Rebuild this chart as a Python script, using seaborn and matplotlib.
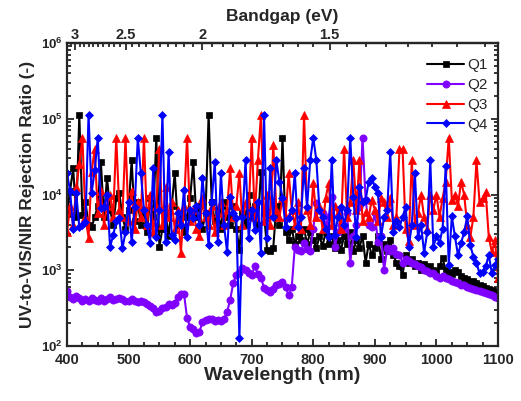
import numpy as np
import pandas as pd
import matplotlib
matplotlib.use("Agg")
import matplotlib.pyplot as plt
import seaborn as sns
from matplotlib.ticker import FixedLocator, MultipleLocator, LogLocator, FuncFormatter, NullFormatter

# ---------------- data (log10 of rejection ratio) ----------------
wavelength = np.arange(400, 1101, 5)

q1_log10 = [
    3.75, 4.05, 4.35, 3.70, 5.05, 3.73, 3.90, 3.60, 3.57, 3.70,
    3.85, 4.43, 3.70, 4.22, 3.80, 3.60, 3.95, 4.02, 3.70, 3.55,
    3.80, 4.45, 3.65, 3.90, 3.60, 3.80, 3.50, 3.95, 3.70, 4.75,
    3.31, 3.55, 3.75, 3.45, 3.85, 4.28, 3.60, 3.75, 3.50, 3.70,
    3.95, 4.43, 3.70, 3.85, 3.55, 3.75, 5.05, 3.90, 3.65, 3.80,
    3.55, 3.90, 3.70, 3.60, 3.85, 3.55, 3.27, 3.75, 3.60, 4.00,
    3.70, 3.85, 3.60, 4.30, 3.75, 3.27, 3.25, 3.30, 3.85, 3.60,
    4.75, 3.50, 3.40, 3.55, 3.35, 3.45, 3.40, 3.55, 3.35, 3.50,
    3.40, 3.29, 3.45, 3.32, 3.50, 3.35, 3.45, 3.30, 3.40, 3.27,
    3.45, 3.35, 3.50, 3.25, 3.40, 3.30, 3.45, 3.10, 3.35, 3.20,
    3.30, 3.45, 3.15, 3.35, 3.25, 3.40, 3.20, 3.10, 3.05, 2.94,
    3.20, 3.10, 3.15, 3.05, 3.10, 3.00, 3.08, 3.02, 3.05, 3.00,
    2.98, 3.05, 3.16, 3.00, 2.98, 2.95, 3.00, 2.98, 2.92, 2.90,
    2.88, 2.85, 2.86, 2.83, 2.80, 2.79, 2.77, 2.75, 2.74, 2.72,
    2.71,
]

q2_log10 = [
    2.72, 2.65, 2.62, 2.66, 2.64, 2.60, 2.62, 2.60, 2.63, 2.61,
    2.60, 2.63, 2.60, 2.62, 2.65, 2.61, 2.62, 2.64, 2.62, 2.60,
    2.59, 2.62, 2.60, 2.58, 2.60, 2.58, 2.55, 2.53, 2.50, 2.45,
    2.46, 2.50, 2.52, 2.55, 2.54, 2.57, 2.65, 2.68, 2.69, 2.37,
    2.25, 2.23, 2.17, 2.18, 2.32, 2.34, 2.36, 2.35, 2.33, 2.34,
    2.33, 2.35, 2.45, 2.61, 2.83, 2.94, 2.96, 3.03, 3.00, 2.96,
    2.94, 3.05, 2.95, 2.90, 2.77, 2.74, 2.71, 2.75, 2.80, 2.82,
    2.85, 2.78, 2.67, 2.78, 3.31, 3.27, 3.25, 3.36, 3.28, 3.25,
    3.55, 3.89, 3.80, 3.76, 3.60, 3.70, 3.97, 3.31, 3.50, 3.60,
    3.55, 3.76, 3.10, 3.45, 3.60, 3.84, 4.75, 3.93, 3.60, 3.57,
    3.75, 3.37, 3.45, 3.00, 3.29, 3.25, 3.30, 3.22, 3.20, 3.10,
    3.15, 3.12, 3.10, 3.08, 3.06, 3.04, 3.00, 2.99, 2.96, 2.96,
    2.93, 2.90, 2.92, 2.90, 2.88, 2.86, 2.84, 2.83, 2.81, 2.80,
    2.78, 2.77, 2.75, 2.74, 2.72, 2.71, 2.70, 2.68, 2.67, 2.65,
    2.64,
]

q3_log10 = [
    3.50, 3.85, 3.60, 4.10, 4.40, 4.75, 3.70, 3.43, 4.30, 4.60,
    3.75, 4.05, 3.60, 3.85, 4.00, 3.70, 4.75, 3.80, 3.70, 4.75,
    3.65, 4.05, 3.55, 3.90, 3.70, 4.75, 3.60, 4.00, 3.50, 3.85,
    4.60, 3.60, 4.10, 3.70, 3.90, 3.55, 3.80, 3.23, 3.85, 4.75,
    3.65, 3.80, 3.55, 3.45, 3.95, 3.70, 3.60, 3.85, 3.50, 3.75,
    3.90, 3.60, 3.80, 4.35, 3.70, 3.85, 4.28, 3.60, 3.90, 3.75,
    4.75, 3.70, 4.45, 5.05, 3.65, 4.00, 3.60, 4.65, 3.80, 3.70,
    3.95, 3.70, 4.28, 3.80, 3.60, 3.90, 3.55, 5.05, 3.80, 3.60,
    4.15, 3.70, 3.85, 3.55, 3.95, 4.15, 3.60, 3.85, 3.75, 3.55,
    4.60, 3.70, 3.90, 4.45, 3.80, 4.45, 3.65, 3.77, 3.70, 3.93,
    3.80, 3.65, 3.95, 3.90, 3.70, 3.95, 3.60, 3.70, 4.60, 4.60,
    3.55, 3.38, 4.45, 3.60, 3.75, 4.00, 3.70, 3.55, 4.00, 3.80,
    4.00, 3.70, 3.95, 4.17, 4.75, 3.93, 4.00, 3.85, 4.17, 4.00,
    3.60, 3.44, 3.70, 4.45, 3.90, 3.95, 4.03, 3.44, 3.24, 3.40,
    2.90,
]

q4_log10 = [
    4.28, 4.05, 3.55, 4.02, 3.57, 3.60, 3.64, 5.05, 4.02, 4.32,
    4.75, 3.82, 3.84, 4.00, 3.31, 3.46, 3.65, 3.69, 3.29, 3.50,
    3.90, 3.37, 3.84, 4.75, 4.28, 3.80, 3.60, 3.36, 4.35, 3.44,
    3.80, 5.05, 3.37, 4.56, 3.46, 3.40, 3.75, 3.60, 4.06, 3.44,
    3.80, 3.69, 3.85, 3.60, 4.22, 3.76, 3.33, 3.90, 4.43, 3.37,
    4.28, 3.60, 3.24, 3.97, 3.75, 3.69, 2.10, 3.70, 4.45, 3.43,
    3.80, 3.53, 3.90, 3.23, 5.05, 3.43, 4.35, 3.70, 4.45, 4.17,
    3.96, 3.57, 3.69, 3.80, 4.28, 3.57, 3.70, 4.35, 3.84, 4.45,
    4.75, 4.45, 3.80, 3.70, 3.55, 3.44, 4.45, 3.46, 3.70, 3.84,
    3.60, 3.80, 4.75, 3.97, 3.44, 4.10, 3.90, 3.93, 4.17, 4.22,
    4.10, 4.02, 3.44, 3.70, 3.80, 4.56, 3.50, 3.65, 3.57, 3.70,
    3.84, 3.31, 3.60, 4.28, 3.44, 3.60, 3.23, 3.50, 4.45, 3.31,
    3.45, 3.36, 3.55, 4.37, 3.07, 3.71, 3.45, 3.20, 3.36, 3.50,
    3.71, 3.33, 3.18, 3.10, 2.96, 2.98, 3.05, 3.20, 2.96, 3.07,
    3.15,
]

series_names = ["Q1", "Q2", "Q3", "Q4"]
series_values = [q1_log10, q2_log10, q3_log10, q4_log10]
series_colors = ["#000000", "#8000ff", "#ff0000", "#0000ff"]
series_markers = ["s", "o", "^", "D"]
series_msize = [4.6, 5.2, 5.4, 4.4]

energy_ticks = [3, 2.5, 2, 1.5]
energy_labels = ["3", "2.5", "2", "1.5"]

frames = []
for name, vals in zip(series_names, series_values):
    frames.append(pd.DataFrame({"wavelength": wavelength,
                                "ratio": 10 ** np.asarray(vals, float),
                                "series": name}))
df = pd.concat(frames, ignore_index=True)

# ---------------- style ----------------
sns.set_style("ticks")
plt.rcParams["font.family"] = ["Liberation Sans", "DejaVu Sans"]
plt.rcParams["mathtext.fontset"] = "custom"
plt.rcParams["mathtext.bf"] = "Liberation Sans:bold"
plt.rcParams["mathtext.rm"] = "Liberation Sans"

fig = plt.figure(figsize=(5.21, 4.01), dpi=100)
ax = fig.add_axes([67 / 521, 1 - 346 / 401, (498 - 67) / 521, (346 - 43) / 401])

for name, col, mk, ms in zip(series_names, series_colors, series_markers, series_msize):
    sub = df[df["series"] == name]
    sns.lineplot(data=sub, x="wavelength", y="ratio", ax=ax, color=col,
                 marker=mk, markersize=ms, markeredgecolor=col, markeredgewidth=0.5,
                 linewidth=1.5, estimator=None, label=name)

ax.set_yscale("log")
ax.set_xlim(400, 1100)
ax.set_ylim(1e2, 1e6)

ax.xaxis.set_major_locator(MultipleLocator(100))
ax.xaxis.set_minor_locator(MultipleLocator(25))
ax.yaxis.set_major_locator(FixedLocator([1e2, 1e3, 1e4, 1e5, 1e6]))
ax.yaxis.set_major_formatter(FuncFormatter(lambda v, p: r"$\mathbf{10^{%d}}$" % int(round(np.log10(v)))))
ax.yaxis.set_minor_locator(LogLocator(base=10, subs=np.arange(2, 10)))
ax.yaxis.set_minor_formatter(NullFormatter())

ax.tick_params(which="both", direction="in", top=False, right=True, width=1.3)
ax.tick_params(which="major", length=5)
ax.tick_params(which="minor", length=3)
ax.tick_params(axis="x", which="major", labelsize=10.5, pad=5)
ax.tick_params(axis="y", which="major", labelsize=9.5, pad=3)
for lab in ax.get_xticklabels():
    lab.set_fontweight("bold")
for sp in ax.spines.values():
    sp.set_linewidth(1.6)

ax.set_xlabel("Wavelength (nm)", fontsize=14, fontweight="bold", labelpad=0)
ax.set_ylabel("UV-to-VIS/NIR Rejection Ratio (-)", fontsize=12.5, fontweight="bold", labelpad=4)


def nm_to_ev(x):
    x = np.asarray(x, float)
    with np.errstate(divide="ignore", invalid="ignore"):
        return 1240.0 / x


secax = ax.secondary_xaxis("top", functions=(nm_to_ev, nm_to_ev))
secax.xaxis.set_major_locator(FixedLocator(energy_ticks))
secax.set_xticklabels(energy_labels, fontweight="bold", fontsize=10.5)
secax.xaxis.set_minor_locator(FixedLocator(np.round(np.arange(1.15, 3.11, 0.05), 2)))
secax.tick_params(which="both", direction="in", width=1.3, pad=1)
secax.tick_params(which="major", length=5)
secax.tick_params(which="minor", length=3)
secax.spines["top"].set_linewidth(1.6)
secax.set_xlabel("Bandgap (eV)", fontsize=12.5, fontweight="bold", labelpad=5)

leg = ax.legend(loc="upper right", bbox_to_anchor=(1.0, 0.985), frameon=False,
                fontsize=11, handlelength=2.4, handletextpad=0.2, labelspacing=0.38,
                borderaxespad=0.3)

fig.savefig("out.png", dpi=100)
